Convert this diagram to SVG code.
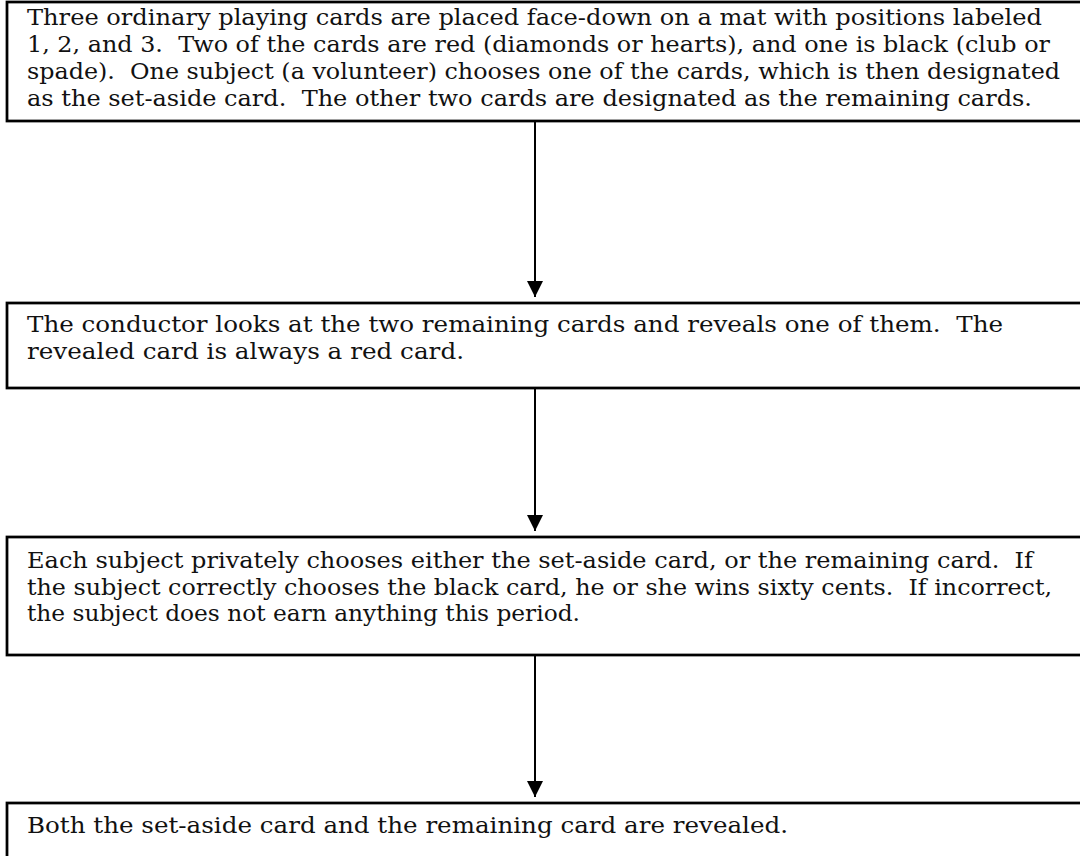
<svg xmlns="http://www.w3.org/2000/svg" width="1080" height="856" viewBox="0 0 1080 856">
<style>
.box{fill:#fff;stroke:#000;stroke-width:2.75}
.t{font-family:"DejaVu Serif","Liberation Serif",serif;font-size:22.5px;fill:#111;white-space:pre}
.c{stroke:#000;stroke-width:2;fill:none}
</style>
<defs>
<marker id="ah" markerUnits="userSpaceOnUse" markerWidth="18" markerHeight="16" refX="16" refY="8" orient="auto">
<path d="M0,0 L16,8 L0,16 Z" fill="#000"/>
</marker>
</defs>
<rect width="1080" height="856" fill="#fff"/>
<g id="connectors">
<line class="c" x1="535" y1="121" x2="535" y2="297" marker-end="url(#ah)"/>
<line class="c" x1="535" y1="388" x2="535" y2="531" marker-end="url(#ah)"/>
<line class="c" x1="535" y1="655" x2="535" y2="797" marker-end="url(#ah)"/>
</g>
<g id="node1">
<rect class="box" x="7" y="2" width="1100" height="119"/>
<text class="t" x="27" y="25" textLength="1015" lengthAdjust="spacingAndGlyphs">Three ordinary playing cards are placed face-down on a mat with positions labeled</text>
<text class="t" x="27" y="52" textLength="1023" lengthAdjust="spacingAndGlyphs">1, 2, and 3.  Two of the cards are red (diamonds or hearts), and one is black (club or</text>
<text class="t" x="27" y="79" textLength="1033" lengthAdjust="spacingAndGlyphs">spade).  One subject (a volunteer) chooses one of the cards, which is then designated</text>
<text class="t" x="27" y="106" textLength="1005" lengthAdjust="spacingAndGlyphs">as the set-aside card.  The other two cards are designated as the remaining cards.</text>
</g>
<g id="node2">
<rect class="box" x="7" y="303" width="1100" height="85"/>
<text class="t" x="27" y="332" textLength="976" lengthAdjust="spacingAndGlyphs">The conductor looks at the two remaining cards and reveals one of them.  The</text>
<text class="t" x="27" y="359" textLength="437" lengthAdjust="spacingAndGlyphs">revealed card is always a red card.</text>
</g>
<g id="node3">
<rect class="box" x="7" y="537" width="1100" height="118"/>
<text class="t" x="27" y="568" textLength="1006" lengthAdjust="spacingAndGlyphs">Each subject privately chooses either the set-aside card, or the remaining card.  If</text>
<text class="t" x="27" y="595" textLength="1025" lengthAdjust="spacingAndGlyphs">the subject correctly chooses the black card, he or she wins sixty cents.  If incorrect,</text>
<text class="t" x="27" y="621" textLength="553" lengthAdjust="spacingAndGlyphs">the subject does not earn anything this period.</text>
</g>
<g id="node4">
<rect class="box" x="7" y="803" width="1100" height="100"/>
<text class="t" x="27" y="833" textLength="761" lengthAdjust="spacingAndGlyphs">Both the set-aside card and the remaining card are revealed.</text>
</g>
</svg>
